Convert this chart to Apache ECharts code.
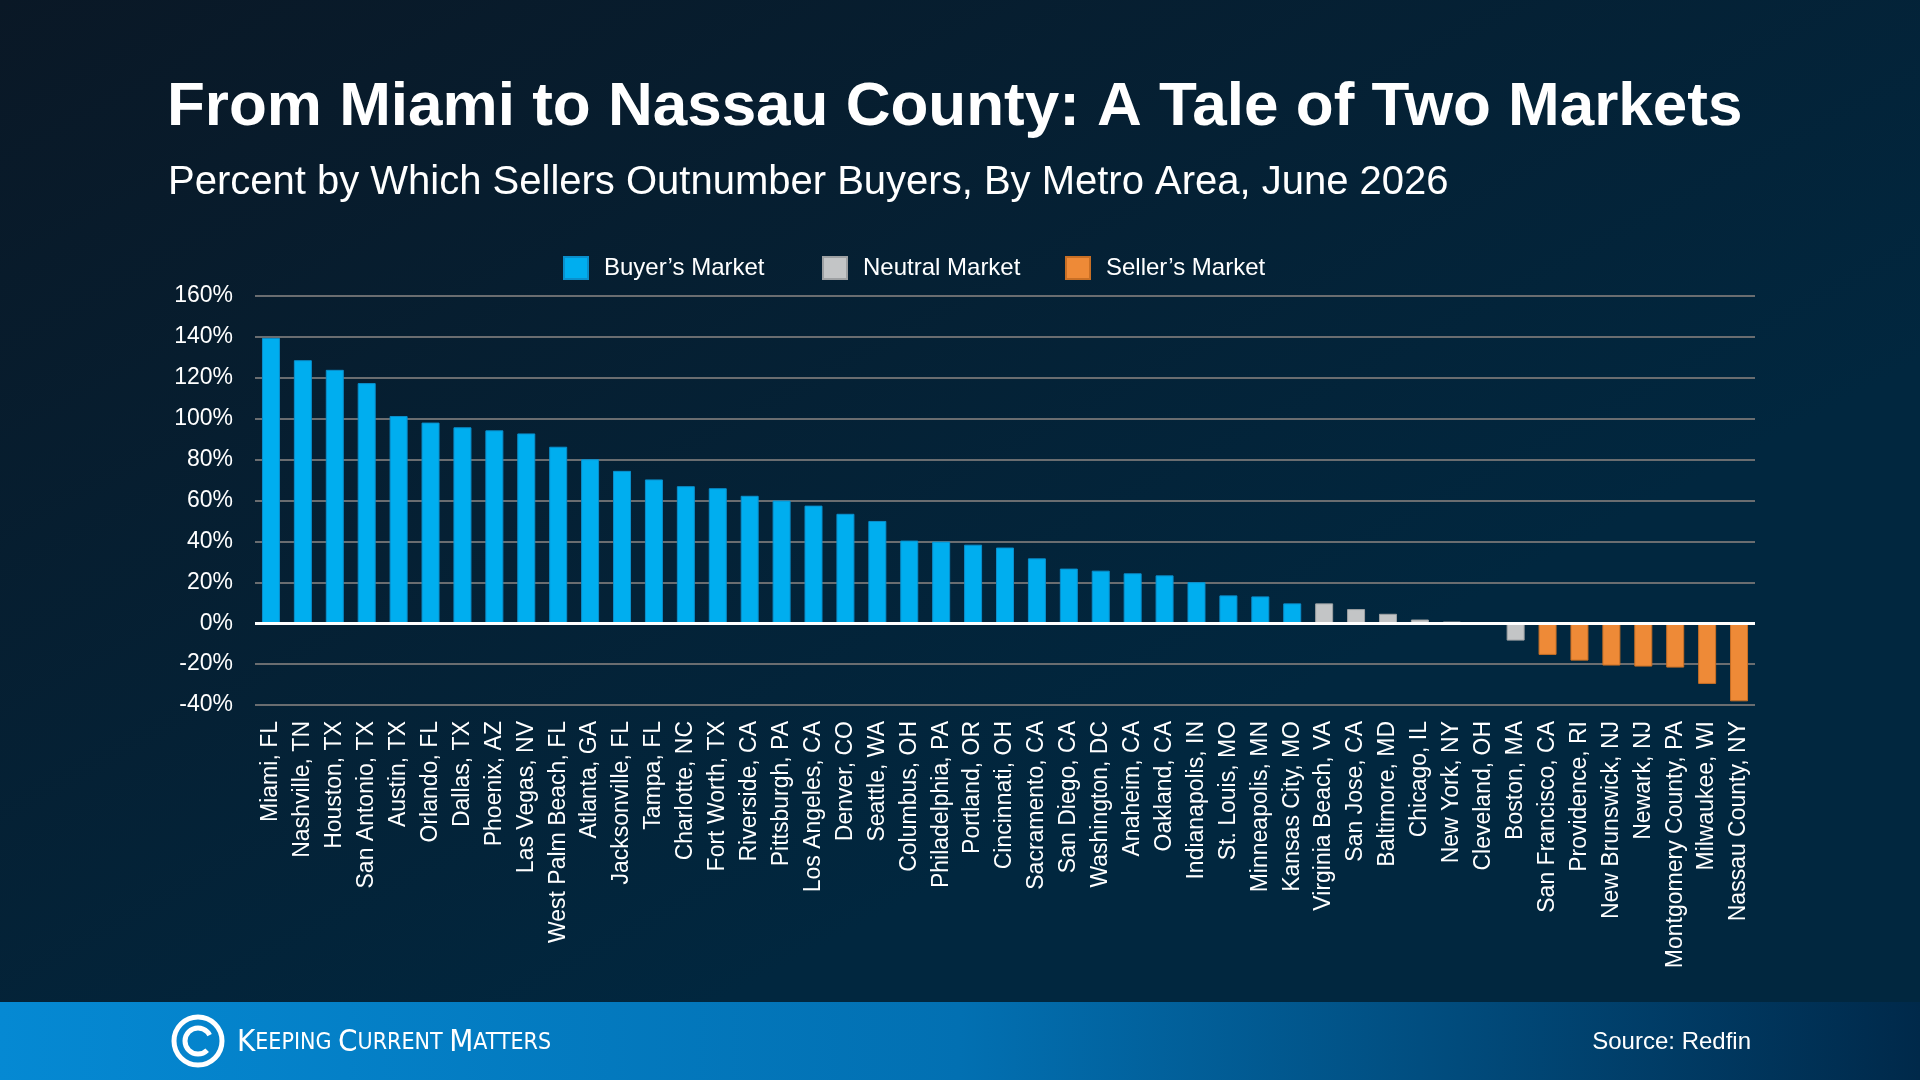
<!DOCTYPE html>
<html>
<head>
<meta charset="utf-8">
<title>From Miami to Nassau County</title>
<script src="https://cdn.jsdelivr.net/npm/echarts@6/dist/echarts.min.js"></script>
<style>
  html, body { margin: 0; padding: 0; background: #041d30; }
  #chart { width: 1920px; height: 1080px; }
</style>
</head>
<body>
<div id="chart"></div>
<script>
var cities = [
  'Miami, FL', 'Nashville, TN', 'Houston, TX', 'San Antonio, TX', 'Austin, TX',
  'Orlando, FL', 'Dallas, TX', 'Phoenix, AZ', 'Las Vegas, NV', 'West Palm Beach, FL',
  'Atlanta, GA', 'Jacksonville, FL', 'Tampa, FL', 'Charlotte, NC', 'Fort Worth, TX',
  'Riverside, CA', 'Pittsburgh, PA', 'Los Angeles, CA', 'Denver, CO', 'Seattle, WA',
  'Columbus, OH', 'Philadelphia, PA', 'Portland, OR', 'Cincinnati, OH', 'Sacramento, CA',
  'San Diego, CA', 'Washington, DC', 'Anaheim, CA', 'Oakland, CA', 'Indianapolis, IN',
  'St. Louis, MO', 'Minneapolis, MN', 'Kansas City, MO', 'Virginia Beach, VA', 'San Jose, CA',
  'Baltimore, MD', 'Chicago, IL', 'New York, NY', 'Cleveland, OH', 'Boston, MA',
  'San Francisco, CA', 'Providence, RI', 'New Brunswick, NJ', 'Newark, NJ',
  'Montgomery County, PA', 'Milwaukee, WI', 'Nassau County, NY'
]
var values = [
  139.5, 128.6, 123.9, 117.4, 101.3,
  98.1, 95.8, 94.3, 92.8, 86.3,
  80.2, 74.5, 70.3, 67.0, 66.0,
  62.3, 60.0, 57.5, 53.5, 50.0,
  40.4, 39.9, 38.4, 37.0, 31.7,
  26.7, 25.7, 24.4, 23.4, 20.1,
  13.6, 13.1, 9.7, 9.7, 6.9,
  4.6, 1.8, 0.8, 0, -8.5,
  -15.5, -18.3, -20.7, -21.2,
  -21.7, -29.7, -38.2
]
// b = buyer's, n = neutral, s = seller's
var market = [
  'b', 'b', 'b', 'b', 'b', 'b', 'b', 'b', 'b', 'b',
  'b', 'b', 'b', 'b', 'b', 'b', 'b', 'b', 'b', 'b',
  'b', 'b', 'b', 'b', 'b', 'b', 'b', 'b', 'b', 'b',
  'b', 'b', 'b', 'n', 'n', 'n', 'n', 'n', 'n', 'n',
  's', 's', 's', 's', 's', 's', 's'
]
var marketKeys = ['b', 'n', 's']
var marketNames = { b: 'Buyer\u2019s Market', n: 'Neutral Market', s: 'Seller\u2019s Market' }
var marketColors = { b: '#00aeef', n: '#c3c5c6', s: '#ee8a37' }
var marketBorders = { b: '#0a8fcc', n: '#9ea1a3', s: '#c86f25' }
var yTicks = { min: -40, max: 160, step: 20 }

var font = "'Liberation Sans', Arial, Helvetica, sans-serif"
var narrow = "'Liberation Sans Narrow', 'DejaVu Sans Condensed', sans-serif"

function seriesFor(key) {
  var data = []
  for (var i = 0; i < values.length; i++) {
    data.push(market[i] === key ? values[i] : '-')
  }
  return {
    name: marketNames[key],
    type: 'bar',
    stack: 'all',
    barWidth: 18,
    data: data,
    itemStyle: {
      color: marketColors[key],
      borderColor: marketBorders[key],
      borderWidth: 1
    },
    emphasis: { disabled: true }
  }
}

var series = marketKeys.map(seriesFor)
series[0].markLine = {
  silent: true,
  symbol: 'none',
  label: { show: false },
  lineStyle: { color: '#ffffff', width: 3, type: 'solid' },
  data: [{ yAxis: 0 }]
}
series[0].z = 3

// one legend per item, the gaps in the original are not even
var legendLeft = [563, 822, 1065]
var legends = marketKeys.map(function(key, i) {
  return {
    left: legendLeft[i],
    top: 256,
    itemWidth: 24,
    itemHeight: 22,
    padding: 0,
    icon: 'rect',
    textStyle: { color: '#ffffff', fontSize: 24, fontFamily: font, padding: [0, 0, 0, 11] },
    data: [marketNames[key]]
  }
})

var chart = echarts.init(document.getElementById('chart'))

var option = {
  backgroundColor: {
    type: 'linear', x: 0, y: 0, x2: 0.3, y2: 1,
    colorStops: [
      { offset: 0, color: '#0a1826' },
      { offset: 1, color: '#01273f' }
    ]
  },
  textStyle: { fontFamily: font },
  animation: false,
  legend: legends,
  grid: {
    left: 255,
    right: 165,
    top: 296,
    bottom: 375
  },
  xAxis: {
    type: 'category',
    data: cities,
    axisLine: { show: false, onZero: false },
    axisTick: { show: false },
    axisLabel: {
      interval: 0,
      rotate: 90,
      margin: 16,
      color: '#ffffff',
      fontSize: 23,
      fontFamily: font
    }
  },
  yAxis: {
    type: 'value',
    min: yTicks.min,
    max: yTicks.max,
    interval: yTicks.step,
    axisLine: { show: false },
    axisTick: { show: false },
    axisLabel: {
      formatter: '{value}%',
      color: '#ffffff',
      fontSize: 23,
      margin: 22,
      fontFamily: font
    },
    splitLine: { lineStyle: { color: '#6a6d70', width: 2 } }
  },
  series: series,
  graphic: [
    {
      type: 'text',
      x: 167,
      y: 108,
      style: {
        text: 'From Miami to Nassau County: A Tale of Two Markets',
        fill: '#ffffff',
        font: 'bold 62px ' + font,
        verticalAlign: 'middle'
      }
    },
    {
      type: 'text',
      x: 168,
      y: 183,
      style: {
        text: 'Percent by Which Sellers Outnumber Buyers, By Metro Area, June 2026',
        fill: '#ffffff',
        font: '40px ' + font,
        verticalAlign: 'middle'
      }
    },
    {
      type: 'rect',
      shape: { x: 0, y: 1002, width: 1920, height: 78 },
      style: {
        fill: {
          type: 'linear', x: 0, y: 0, x2: 1, y2: 0.4,
          colorStops: [
            { offset: 0, color: '#0589d3' },
            { offset: 0.5, color: '#0270b2' },
            { offset: 1, color: '#00294a' }
          ]
        }
      },
      z: -1
    },
    {
      type: 'circle',
      shape: { cx: 198, cy: 1041, r: 24 },
      style: { fill: 'none', stroke: '#ffffff', lineWidth: 5 }
    },
    {
      type: 'arc',
      shape: { cx: 198, cy: 1041, r: 13, startAngle: Math.PI * 0.25, endAngle: Math.PI * 1.85 },
      style: { fill: 'none', stroke: '#ffffff', lineWidth: 5 }
    },
    {
      type: 'text',
      x: 237,
      y: 1043,
      style: {
        text: '{b|K}{s|EEPING }{b|C}{s|URRENT }{b|M}{s|ATTERS}',
        fill: '#ffffff',
        verticalAlign: 'middle',
        rich: {
          b: { fontSize: 31, fontFamily: narrow, fill: '#ffffff' },
          s: { fontSize: 23, fontFamily: narrow, fill: '#ffffff' }
        }
      }
    },
    {
      type: 'text',
      x: 1751,
      y: 1042,
      style: {
        text: 'Source: Redfin',
        fill: '#ffffff',
        font: '24px ' + font,
        align: 'right',
        verticalAlign: 'middle'
      }
    }
  ]
}

chart.setOption(option)
</script>
</body>
</html>
